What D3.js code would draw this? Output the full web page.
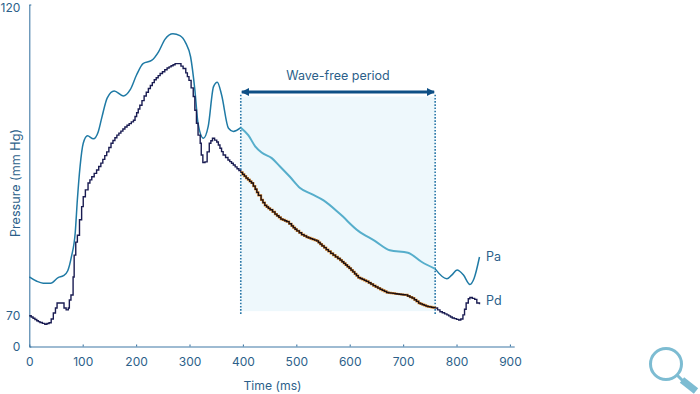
<!DOCTYPE html>
<html>
<head>
<meta charset="utf-8">
<script src="https://d3js.org/d3.v7.min.js"></script>
<style>
  html, body { margin: 0; padding: 0; background: #fff; }
  svg { display: block; }
  text { font-family: Inter, "Open Sans", sans-serif; fill: #2c5f8a; }
</style>
</head>
<body>
<svg width="700" height="394"></svg>
<script>
const xTicks = [0, 100, 200, 300, 400, 500, 600, 700, 800, 900]
const yTicks = [0, 70, 120]
const waveFree = [396, 760]

const paTime = [0, 14, 26, 40, 54, 64, 72, 79, 86, 90, 95, 101, 109, 120, 129, 136, 146, 159, 176, 189, 201, 213, 229, 242, 254, 269, 282, 293, 302, 310, 316, 326, 335, 345, 352, 360, 373, 382, 396,
    410, 423, 435, 454, 469, 488, 507, 529, 551, 582, 616, 647, 675, 709, 735, 760, 782, 791, 801, 813, 825, 833, 843]
const paValues = [76.2, 75.5, 75.2, 75.2, 76.1, 76.4, 77.2, 79.5, 83.3, 88.6, 93.9, 97.7, 98.9, 98.4, 99.5, 101.9, 105.0, 106.1, 105.3, 106.3, 108.7, 110.5, 111.0, 112.4, 114.4, 115.3, 115.0, 113.8, 111.6, 106.3, 100.9, 98.5, 100.4, 106.8, 107.5, 105.5, 100.1, 99.6, 100.2,
    99.0, 97.2, 96.2, 95.3, 94.0, 92.3, 90.5, 89.5, 88.5, 86.3, 83.6, 82.0, 80.5, 80.1, 78.6, 77.5, 75.9, 76.5, 77.3, 76.5, 75.0, 76.0, 79.4]

const pdTime = [0, 14, 20, 29, 37, 41, 45, 49, 52, 61, 65, 69, 73, 75, 78, 82, 84, 87, 90, 94, 98, 101, 105, 110, 117, 126, 134, 145, 153, 164, 179, 195, 201, 207, 215, 223, 234, 245, 258, 273, 280, 288, 293, 299, 303, 307, 310, 313, 316, 320, 322, 325, 329, 333, 337, 343, 351, 357, 363, 372, 382, 396,
    406, 416, 423, 429, 434, 441, 451, 460, 471, 482, 491, 501, 510, 519, 538, 548, 560, 569, 582, 599, 616, 631, 644, 657, 669, 685, 704, 717, 729, 743, 760,
    769, 782, 792, 804, 808, 812, 815, 818, 822, 825, 834, 838, 843]
const pdValues = [69.5, 58.3, 54.2, 50.1, 53.7, 62, 70.4, 71.2, 72.0, 72.0, 71.2, 70.9, 71.2, 72.5, 73.3, 76.2, 79.7, 81.8, 82.9, 85.4, 87.5, 89.1, 90.2, 91.3, 92.3, 93.4, 94.5, 96.3, 97.7, 99.0, 100.3, 101.4, 102.6, 103.8, 105.3, 106.5, 107.9, 108.9, 109.8, 110.5, 110.5, 109.7, 109.0, 107.8, 106.6, 105.2, 103.0, 100.9, 99.0, 97.7, 95.8, 94.6, 94.7, 96.3, 97.7, 98.5, 97.9, 96.9, 95.8, 95.0, 94.2, 93.0,
    92.1, 91.3, 90.3, 89.3, 88.6, 87.7, 87.0, 86.3, 85.5, 85.1, 84.4, 83.6, 83.0, 82.6, 82.0, 81.2, 80.3, 79.7, 78.9, 77.6, 76.1, 75.5, 74.8, 74.2, 73.7, 73.5, 73.3, 72.8, 72.0, 71.5, 71.2,
    70.6, 70.1, 64.4, 59.8, 62.1, 70.1, 71.0, 72.0, 72.7, 72.9, 72.6, 72.0, 71.8]

const svg = d3.select('svg')

// y axis is broken: 0-70 is squeezed into the bottom bit
const xScale = d3.scaleLinear().domain([0, 908]).range([29.3, 514.2])
const yScale = d3.scaleLinear().domain([0, 70, 120]).range([346.5, 315.5, 4.5])

const zip = (ts, vs) => ts.map((t, i) => ({ t, p: vs[i] }))
const pa = zip(paTime, paValues)
const pd = zip(pdTime, pdValues)

const inside = d => d.t >= waveFree[0] && d.t <= waveFree[1]
const before = d => d.t <= waveFree[0]
const after = d => d.t >= waveFree[1]

// Pd trace looks digitised, so the line style is a staircase with a 2px tread
const curveStairs = context => {
    let x0, y0, started = false
    return {
        areaStart() {},
        areaEnd() {},
        lineStart() { started = false },
        lineEnd() {},
        point(x, y) {
            if (!started) {
                context.moveTo(x, y)
                started = true
            } else {
                const n = Math.max(1, Math.round((x - x0) / 2))
                for (let i = 1; i <= n; i++) {
                    const px = x0 + (x - x0) * i / n
                    const py = y0 + (y - y0) * i / n
                    context.lineTo(px, y0 + (y - y0) * (i - 1) / n)
                    context.lineTo(px, py)
                }
            }
            x0 = x
            y0 = y
        }
    }
}

const smooth = d3.line().x(d => xScale(d.t)).y(d => yScale(d.p)).curve(d3.curveMonotoneX)
const stepped = d3.line().x(d => xScale(d.t)).y(d => yScale(d.p)).curve(curveStairs)

// wave-free band
svg.append('rect')
    .attr('x', xScale(waveFree[0]))
    .attr('y', yScale(105.2))
    .attr('width', xScale(waveFree[1]) - xScale(waveFree[0]))
    .attr('height', yScale(70.7) - yScale(105.2))
    .attr('fill', '#eef8fc')

svg.selectAll('.bound').data(waveFree)
    .enter().append('line')
    .attr('class', 'bound')
    .attr('x1', d => xScale(d))
    .attr('x2', d => xScale(d))
    .attr('y1', yScale(105.5))
    .attr('y2', yScale(70.1))
    .attr('stroke', '#2a78a8')
    .attr('stroke-width', 1.6)
    .attr('stroke-dasharray', '1.6 1.6')

// arrow
const defs = svg.append('defs')
defs.append('marker')
    .attr('id', 'head')
    .attr('viewBox', '0 0 6 6')
    .attr('refX', 5.5)
    .attr('refY', 3)
    .attr('markerWidth', 8)
    .attr('markerHeight', 8)
    .attr('markerUnits', 'userSpaceOnUse')
    .attr('orient', 'auto-start-reverse')
    .append('path')
    .attr('d', 'M0,0L6,3L0,6Z')
    .attr('fill', '#0d4f85')

svg.append('line')
    .attr('x1', xScale(waveFree[0]) + 1)
    .attr('x2', xScale(waveFree[1]) - 1)
    .attr('y1', 92)
    .attr('y2', 92)
    .attr('stroke', '#0d4f85')
    .attr('stroke-width', 3)
    .attr('marker-start', 'url(#head)')
    .attr('marker-end', 'url(#head)')

svg.append('text')
    .attr('x', 338)
    .attr('y', 80)
    .attr('text-anchor', 'middle')
    .attr('font-size', 12.5)
    .text('Wave-free period')

// axes
const xAxis = svg.append('g')
    .attr('transform', `translate(0,${yScale(0)})`)
    .call(d3.axisBottom(xScale).tickValues(xTicks).tickSize(-2).tickPadding(11).tickSizeOuter(0))
const yAxis = svg.append('g')
    .attr('transform', `translate(${xScale(0)},0)`)
    .call(d3.axisLeft(yScale).tickValues(yTicks).tickSize(-2).tickPadding(9).tickSizeOuter(0))

;[xAxis, yAxis].forEach(a => {
    a.selectAll('.domain, .tick line').attr('stroke', '#3f78a5').attr('stroke-width', 1.1)
    a.selectAll('text').attr('font-size', 12).attr('font-family', null).style('fill', '#2c5f8a')
})
xAxis.selectAll('text').attr('dy', '0.71em')
// 120 sits right at the top edge, nudge it down so it doesn't clip
yAxis.selectAll('.tick text').attr('dy', d => d === 120 ? '0.6em' : '0.36em')

svg.append('text')
    .attr('x', 272.5)
    .attr('y', 390)
    .attr('text-anchor', 'middle')
    .attr('font-size', 12.2)
    .text('Time (ms)')
svg.append('text')
    .attr('transform', 'translate(20,183) rotate(-90)')
    .attr('text-anchor', 'middle')
    .attr('font-size', 12.6)
    .text('Pressure (mm Hg)')

// Pa
svg.append('path').attr('d', smooth(pa.filter(before)))
    .attr('fill', 'none').attr('stroke', '#1f7aa5').attr('stroke-width', 1.5)
svg.append('path').attr('d', smooth(pa.filter(after)))
    .attr('fill', 'none').attr('stroke', '#1f7aa5').attr('stroke-width', 1.5)
svg.append('path').attr('d', smooth(pa.filter(inside)))
    .attr('fill', 'none').attr('stroke', '#56aecb').attr('stroke-width', 2)

// Pd
svg.append('path').attr('d', stepped(pd.filter(before)))
    .attr('fill', 'none').attr('stroke', '#1a1c52').attr('stroke-width', 1.4)
svg.append('path').attr('d', stepped(pd.filter(after)))
    .attr('fill', 'none').attr('stroke', '#1a1c52').attr('stroke-width', 1.4)
svg.append('path').attr('d', stepped(pd.filter(inside)))
    .attr('fill', 'none').attr('stroke', '#d9892f').attr('stroke-width', 2.2)
svg.append('path').attr('d', stepped(pd.filter(inside)))
    .attr('fill', 'none').attr('stroke', '#1a0f14').attr('stroke-width', 1.3)

svg.append('text').attr('x', 486).attr('y', 260.5).attr('font-size', 12.5).text('Pa')
svg.append('text').attr('x', 486).attr('y', 305).attr('font-size', 12.5).text('Pd')

// magnifier
const icon = svg.append('g').attr('fill', 'none').attr('stroke', '#7dbcd2')
icon.append('circle').attr('cx', 666).attr('cy', 364).attr('r', 15.5).attr('stroke-width', 3)
icon.append('line').attr('x1', 677).attr('y1', 375).attr('x2', 683).attr('y2', 381).attr('stroke-width', 3)
icon.append('line').attr('x1', 682).attr('y1', 380).attr('x2', 696).attr('y2', 391).attr('stroke-width', 7)
</script>
</body>
</html>
